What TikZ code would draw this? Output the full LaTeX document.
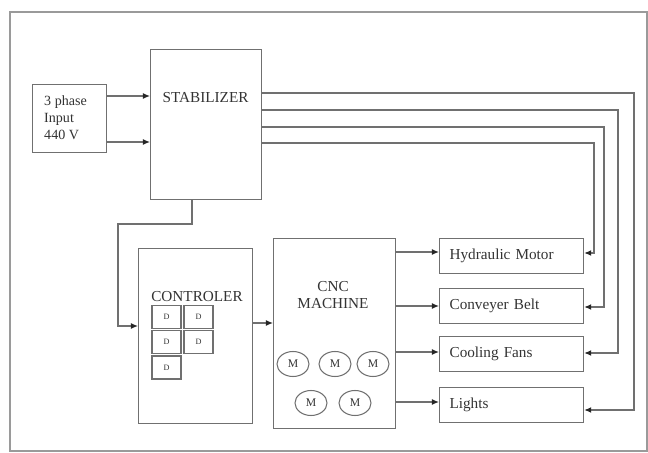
\documentclass[tikz,border=0pt]{standalone}
\usepackage{fontspec}
\setmainfont{Liberation Serif}
\usetikzlibrary{shapes.geometric, arrows.meta}

\definecolor{linegray}{HTML}{707070}
\definecolor{framegray}{HTML}{9A9A9A}
\definecolor{textgray}{HTML}{333333}

\tikzset{box_style/.style={rectangle, draw=linegray, line width=1pt, inner sep=0pt, anchor=north west}}
\tikzset{text_style/.style={text=textgray, inner sep=0pt, font=\fontsize{13}{15}\selectfont}}
\tikzset{out_style/.style={box_style, text=textgray, minimum width=4.32cm, minimum height=1.05cm,
    inner xsep=0.3cm, text width=3.72cm, align=left, font=\fontsize{13}{15}\selectfont}}
\tikzset{d_style/.style={rectangle, draw=linegray, line width=0.9pt, minimum width=0.87cm, minimum height=0.69cm,
    inner sep=0pt, text=textgray, font=\fontsize{7}{8}\selectfont}}
\tikzset{m_style/.style={ellipse, draw=linegray, line width=0.9pt, minimum width=0.96cm, minimum height=0.75cm,
    inner sep=0pt, text=textgray, font=\fontsize{10}{12}\selectfont}}
\tikzset{arr/.style={draw=linegray, line width=1pt, -{Latex[length=6pt,width=5pt,color=black!85]}}}

\begin{document}
\begin{tikzpicture}[x=0.03cm, y=-0.03cm]
    \useasboundingbox (0,0) rectangle (648,453);
    \draw[draw=framegray, line width=1pt] (10,12) rectangle (647,451);

    % supply side
    \node[box_style, minimum width=2.22cm, minimum height=2.04cm] (input) at (32,84) {};
    \node[text_style, anchor=west, align=left, font=\fontsize{12}{14.5}\selectfont] (input_text) at (44,118) {3 phase\\Input\\440 V};
    \node[box_style, minimum width=3.33cm, minimum height=4.5cm] (stab) at (150,49) {};
    \node[text_style] (stab_text) at (205.5,98) {STABILIZER};

    % controller
    \node[box_style, minimum width=3.42cm, minimum height=5.25cm] (ctrl) at (138,248) {};
    \node[text_style] (ctrl_text) at (197,297) {CONTROLER};
    \node[d_style] (d1) at (166.5,317) {D};
    \node[d_style] (d2) at (198.5,317) {D};
    \node[d_style] (d3) at (166.5,342) {D};
    \node[d_style] (d4) at (198.5,342) {D};
    \node[d_style] (d5) at (166.5,367.5) {D};

    % cnc machine
    \node[box_style, minimum width=3.66cm, minimum height=5.7cm] (cnc) at (273,238) {};
    \node[text_style, align=center, font=\fontsize{13}{14.5}\selectfont] (cnc_text) at (333,295.5) {CNC\\MACHINE};
    \node[m_style] (m1) at (293,364) {M};
    \node[m_style] (m2) at (335,364) {M};
    \node[m_style] (m3) at (373,364) {M};
    \node[m_style] (m4) at (311,403) {M};
    \node[m_style] (m5) at (355,403) {M};

    % loads
    \node[out_style] (hyd) at (439,238) {Hydraulic Motor};
    \node[out_style] (belt) at (439,288) {Conveyer Belt};
    \node[out_style] (fans) at (439,336) {Cooling Fans};
    \node[out_style] (lights) at (439,387) {Lights};

    \draw[arr] (input.east |- 0,96) -- (stab.west |- 0,96);
    \draw[arr] (input.east |- 0,142) -- (stab.west |- 0,142);

    \draw[arr] (stab.east |- 0,93) -| (634,410) -- (lights.east |- 0,410);
    \draw[arr] (stab.east |- 0,110) -| (618,353) -- (fans.east |- 0,353);
    \draw[arr] (stab.east |- 0,127) -| (604,307) -- (belt.east |- 0,307);
    \draw[arr] (stab.east |- 0,143) -| (594,253) -- (hyd.east |- 0,253);

    \draw[arr] (stab.south -| 192,0) |- (118,224) |- (ctrl.west |- 0,326);
    \draw[arr] (ctrl.east |- 0,323) -- (cnc.west |- 0,323);

    \draw[arr] (cnc.east |- 0,252) -- (hyd.west |- 0,252);
    \draw[arr] (cnc.east |- 0,306) -- (belt.west |- 0,306);
    \draw[arr] (cnc.east |- 0,352) -- (fans.west |- 0,352);
    \draw[arr] (cnc.east |- 0,402) -- (lights.west |- 0,402);
\end{tikzpicture}
\end{document}
